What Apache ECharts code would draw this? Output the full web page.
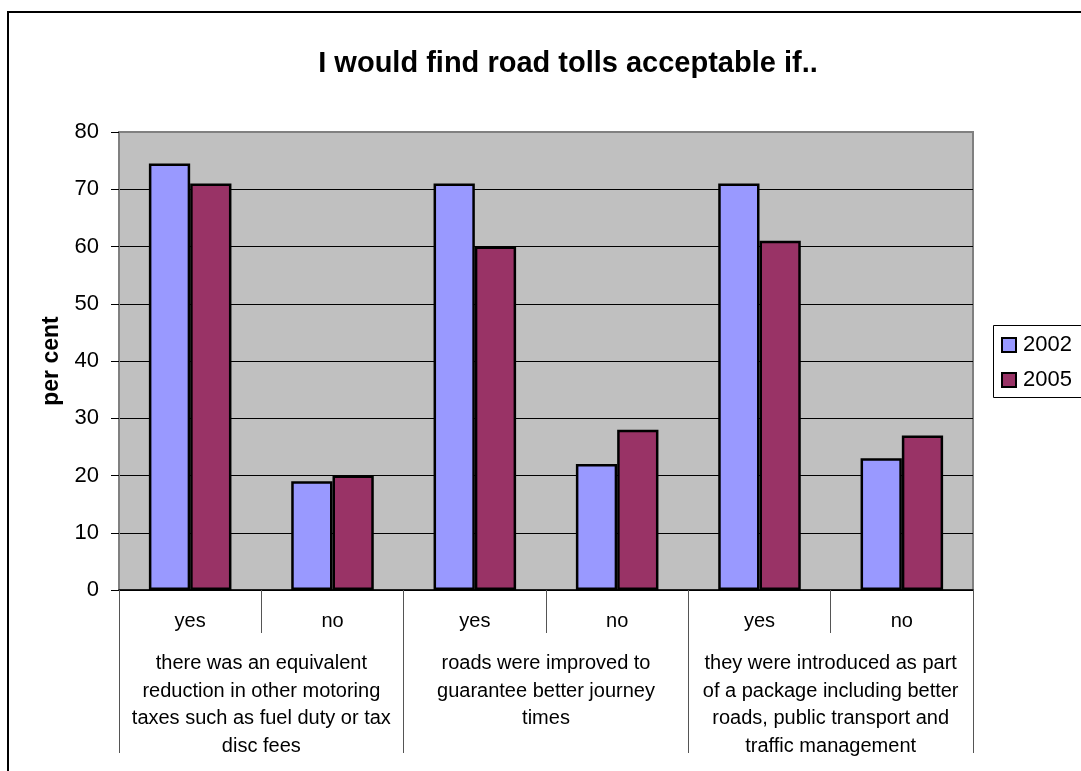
<!DOCTYPE html>
<html>
<head>
	<meta charset="utf-8" />
	<title>road tolls</title>
	<script src="https://cdn.jsdelivr.net/npm/echarts@6/dist/echarts.min.js"></script>
	<style>
		html, body { margin: 0; padding: 0; background: #fff; }
		#chartmain { width: 1081px; height: 771px; }
	</style>
</head>
<body>
	<div id="chartmain"></div>
</body>
<script type="text/javascript">
	// data
	var answers = ['yes', 'no', 'yes', 'no', 'yes', 'no'];
	var groups = [
		'there was an equivalent\nreduction in other motoring\ntaxes such as fuel duty or tax\ndisc fees',
		'roads were improved to\nguarantee better journey\ntimes',
		'they were introduced as part\nof a package including better\nroads, public transport and\ntraffic management'
	];
	var years = ['2002', '2005'];
	var v2002 = [74.5, 19, 71, 22, 71, 23];
	var v2005 = [71, 20, 60, 28, 61, 27];
	var yTicks = [0, 10, 20, 30, 40, 50, 60, 70, 80];

	var font = 'Liberation Sans, Arial, sans-serif';
	var myChart = echarts.init(document.getElementById('chartmain'));

	var option = {
		animation: false,
		textStyle: { fontFamily: font, color: '#000' },
		title: {
			text: 'I would find road tolls acceptable if..',
			left: 563,
			top: 44,
			textAlign: 'center',
			textStyle: { fontFamily: font, fontSize: 29, fontWeight: 'bold', color: '#000' }
		},
		graphic: [
			{ // outer chart frame
				type: 'rect', z: -10,
				shape: { x: 8, y: 12, width: 1100, height: 800 },
				style: { fill: 'none', stroke: '#000', lineWidth: 2 }
			},
			{ // legend frame
				type: 'rect', z: -5,
				shape: { x: 993.5, y: 325.5, width: 100, height: 72 },
				style: { fill: '#fff', stroke: '#000', lineWidth: 1 }
			}
		],
		legend: {
			data: years,
			orient: 'vertical',
			left: 1001,
			top: 334,
			padding: 0,
			itemWidth: 14,
			itemHeight: 14,
			itemGap: 13,
			icon: 'rect',
			textStyle: { fontFamily: font, fontSize: 22, color: '#000', padding: [0, 0, 0, 2] }
		},
		grid: {
			left: 119, right: 108, top: 132, bottom: 181,
			show: true,
			backgroundColor: '#c0c0c0',
			borderColor: '#808080',
			borderWidth: 2
		},
		xAxis: [
			{
				type: 'category',
				data: answers,
				axisLine: { lineStyle: { color: '#000', width: 1.5 } },
				axisTick: { show: true, length: 43, interval: 0, lineStyle: { color: '#555' } },
				axisLabel: { interval: 0, margin: 21, fontSize: 20, color: '#000', fontFamily: font }
			},
			{
				type: 'category',
				position: 'bottom',
				data: groups,
				axisLine: { show: false },
				axisTick: { show: true, length: 163, interval: 0, lineStyle: { color: '#555' } },
				axisLabel: { interval: 0, margin: 60, fontSize: 20, lineHeight: 27.5, color: '#000', fontFamily: font }
			}
		],
		yAxis: {
			type: 'value',
			min: yTicks[0],
			max: yTicks[yTicks.length - 1],
			interval: 10,
			name: 'per cent',
			nameLocation: 'middle',
			nameGap: 56,
			nameTextStyle: { fontFamily: font, fontSize: 23, fontWeight: 'bold', color: '#000' },
			axisLine: { show: true, lineStyle: { color: '#808080', width: 2 } },
			axisTick: { show: true, length: 8, lineStyle: { color: '#000' } },
			axisLabel: { margin: 20, fontSize: 22, color: '#000', fontFamily: font },
			splitLine: { showMaxLine: false, lineStyle: { color: '#000', width: 1 } }
		},
		series: [
			{
				name: years[0],
				type: 'bar',
				xAxisIndex: 0,
				data: v2002,
				barGap: '0%',
				barCategoryGap: '42%',
				itemStyle: { color: '#9999ff', borderColor: '#000', borderWidth: 2.5 }
			},
			{
				name: years[1],
				type: 'bar',
				xAxisIndex: 0,
				data: v2005,
				itemStyle: { color: '#993366', borderColor: '#000', borderWidth: 2.5 }
			}
		]
	};
	myChart.setOption(option);
</script>
</html>
